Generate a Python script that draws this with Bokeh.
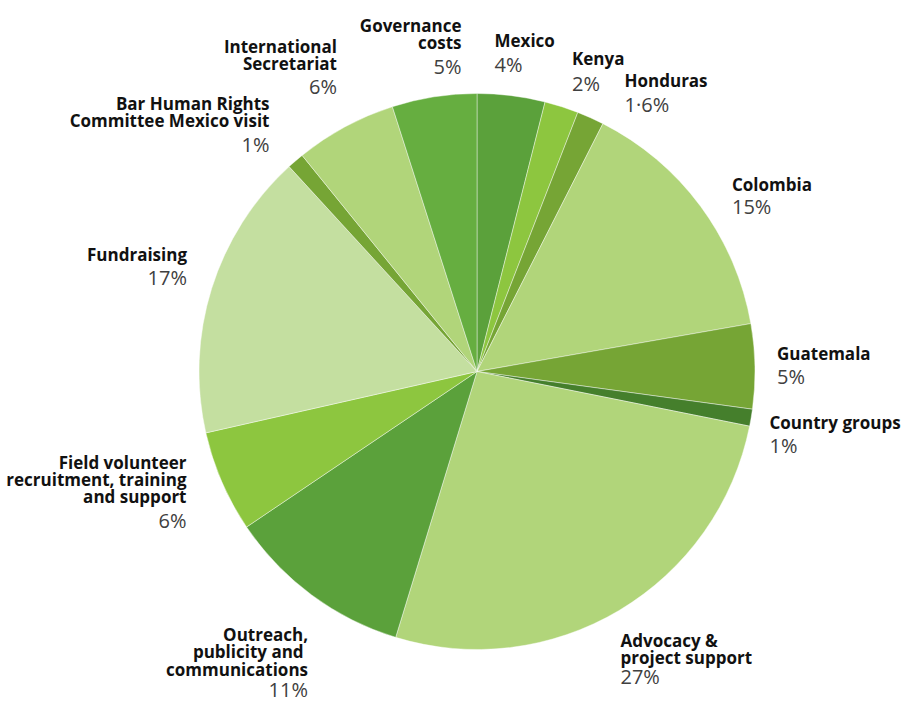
import numpy as np
from bokeh.plotting import figure
from bokeh.models import ColumnDataSource
from bokeh.core.properties import value
from bokeh.embed import file_html
from bokeh.resources import INLINE

# ---- data (clockwise from 12 o'clock) ----
categories = ["Mexico", "Kenya", "Honduras", "Colombia", "Guatemala", "Country groups",
              "Advocacy &\nproject support", "Outreach,\npublicity  and\ncommunications",
              "Field volunteer\nrecruitment, training\nand support", "Fundraising",
              "Bar Human Rights\nCommittee Mexico visit", "International\nSecretariat",
              "Governance\ncosts"]
values = [4, 2, 1.6, 15, 5, 1, 27, 11, 6, 17, 1, 6, 5]
pct_labels = ["4%", "2%", "1·6%", "15%", "5%", "1%", "27%", "11%", "6%", "17%", "1%", "6%", "5%"]
colors = ["#5ba13b", "#8dc63f", "#76a535", "#b1d57a", "#76a535", "#457f2c", "#b1d57a",
          "#5ba13b", "#8dc63f", "#c4dfa0", "#76a535", "#b1d57a", "#66ae40"]

# ---- layout (screen px in the 905x702 picture) ----
W, H = 905, 702
TITLE_SHIFT = 7   # empirical correction of the rendered baseline
PCT_SHIFT = 8
def dx(X): return X
def dy(Y): return H - Y

cx, cy, R = dx(476.5), dy(371), 278

# label anchors: (x, first title baseline, pct baseline, align)
label_pos = [
    (494, 47, 71.5, "left"),
    (571.5, 65, 90.5, "left"),
    (624, 87, 111.5, "left"),
    (731.5, 190.5, 214, "left"),
    (776.5, 359.5, 383.5, "left"),
    (769, 428.5, 452.5, "left"),
    (620, 647, 684, "left"),
    (307.5, 641, 697, "right"),
    (186, 468.5, 527.5, "right"),
    (186.5, 261, 285, "right"),
    (269, 110, 151.5, "right"),
    (336.5, 53, 94, "right"),
    (461, 31.5, 74, "right"),
]
line_gap = 17.3

frac = np.array(values, dtype=float) / sum(values)
cum = np.concatenate([[0], np.cumsum(frac)])
start = np.pi / 2 - cum[1:] * 2 * np.pi
end = np.pi / 2 - cum[:-1] * 2 * np.pi

src = ColumnDataSource(dict(start=start, end=end, color=colors, cat=categories))

p = figure(width=W, height=H, x_range=(0, W), y_range=(0, H),
           output_backend="svg", toolbar_location=None, min_border=0)
p.axis.visible = False
p.grid.visible = False
p.outline_line_color = None

p.wedge(x=cx, y=cy, radius=R, radius_units="screen", start_angle="start", end_angle="end",
        fill_color="color", line_color="white", line_width=0.6, line_alpha=0.7, source=src)

tx, ty, tt, ta = [], [], [], []
px, py, pt, pa = [], [], [], []
for cat, pct, (X, Yb, Yp, al) in zip(categories, pct_labels, label_pos):
    for i, line in enumerate(cat.split("\n")):
        tx.append(dx(X)); ty.append(dy(Yb - TITLE_SHIFT + i * line_gap)); tt.append(line); ta.append(al)
    px.append(dx(X)); py.append(dy(Yp - PCT_SHIFT)); pt.append(pct); pa.append(al)

p.text(x=tx, y=ty, text=tt, text_align=ta, text_baseline="alphabetic",
       text_font=value("Open Sans"), text_font_style="bold", text_font_size="17px",
       text_color="#111111")
p.text(x=px, y=py, text=pt, text_align=pa, text_baseline="alphabetic",
       text_font=value("Open Sans"), text_font_size="20px", text_color="#404040")

open("out.html", "w").write(file_html(p, INLINE))
